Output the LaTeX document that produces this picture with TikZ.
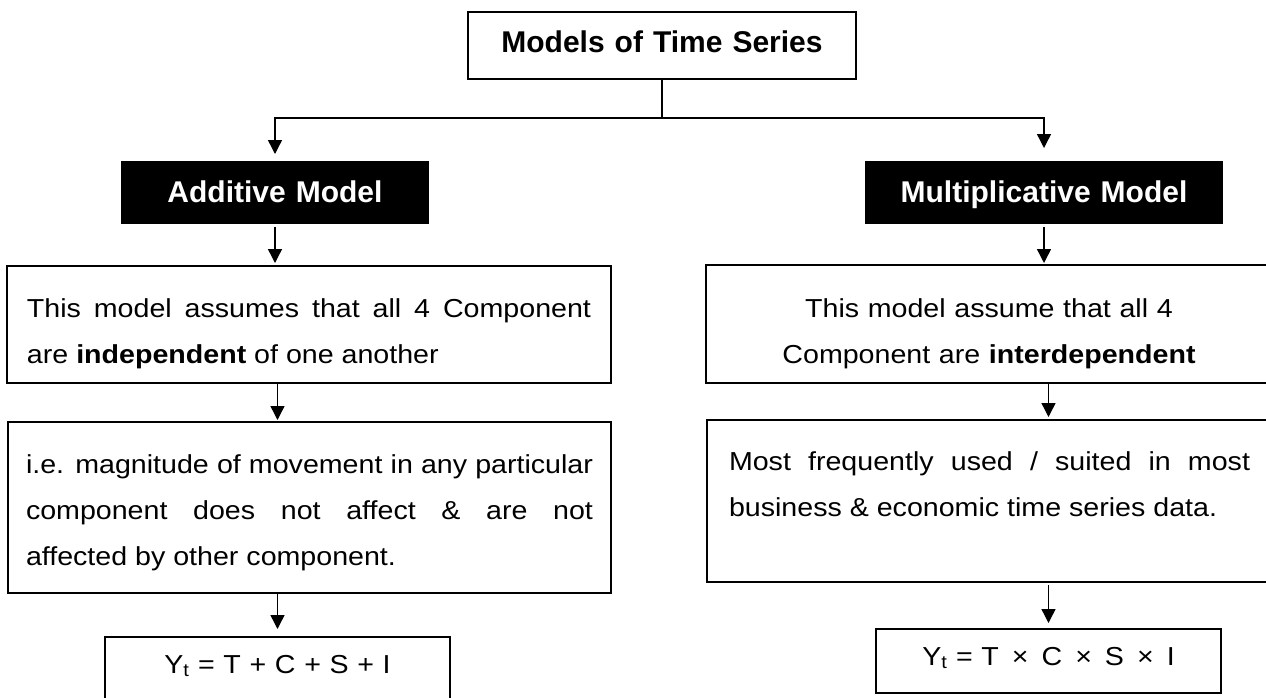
\documentclass[tikz,border=0pt]{standalone}
\usepackage{fontspec}
\setmainfont{Liberation Sans}
\newfontfamily\bodyfont[FakeStretch=1.1]{Liberation Sans}
\usetikzlibrary{arrows.meta}
\tolerance=10000
\hbadness=10000
\hyphenpenalty=10000
\exhyphenpenalty=10000
\tikzset{
  plainbox/.style={draw,line width=1.4pt,anchor=north west,inner ysep=0pt,inner xsep=20pt,outer sep=0pt},
  textbox/.style={plainbox,align=justify,font=\bodyfont\fontsize{26}{46}\selectfont},
  headbox/.style={plainbox,align=center,font=\fontsize{30}{36}\selectfont\bfseries},
  arr/.style={line width=1.4pt,-{Triangle[length=14pt,width=14pt]}}
}
\begin{document}
\begin{tikzpicture}[x=1pt,y=-1pt]
  \useasboundingbox (0,0) rectangle (1266,697);
  \clip (0,0) rectangle (1266,697);
  \node (title) [headbox,text width=348pt,text height=40pt,text depth=27pt] at (468,12) {Models of Time Series};
  \node (add) [headbox,fill=black,text=white,text width=266pt,text height=40pt,text depth=21pt] at (122,162) {Additive Model};
  \node (mult) [headbox,fill=black,text=white,text width=316pt,text height=40pt,text depth=21pt] at (866,162) {Multiplicative Model};
  \node (addA) [textbox,text width=564pt,text height=51pt,text depth=66pt] at (7,266) {This model assumes that all 4 Component are \textbf{independent} of one another};
  \node (addB) [textbox,text width=567pt,inner xsep=18pt,text height=51pt,text depth=120pt] at (8,422) {i.e. magnitude of movement in any particular component does not affect \& are not\linebreak affected by other component.};
  \node (addF) [textbox,align=center,text width=305pt,text height=36pt,text depth=28pt] at (105,637) {Y\textsubscript{t} = T + C + S + I};
  \node (multA) [textbox,align=center,text width=522pt,inner xsep=22pt,text height=52pt,text depth=66pt] at (706,265) {This model assume that all 4\\Component are \textbf{interdependent}};
  \node (multB) [textbox,text width=521pt,inner xsep=22pt,text height=50pt,text depth=112pt] at (707,420) {Most frequently used / suited in most business \& economic time series data.};
  \node (multF) [textbox,align=center,text width=305pt,text height=36pt,text depth=28pt] at (876,629) {Y\textsubscript{t} = T\, × \,C\, × \,S\, × \,I};
  \coordinate (split) at (662,118);
  \draw [line width=1.4pt] (title.south) -- (split);
  \draw [arr,shorten >=8pt] (split) -| (add.north);
  \draw [arr,shorten >=14pt] (split) -| (mult.north);
  \draw [arr,shorten <=4pt,shorten >=3pt] (add.south) -- (add.south |- addA.north);
  \draw [arr,shorten >=2pt] (addA.south -| addF.north) -- (addB.north -| addF.north);
  \draw [arr,shorten >=8pt] (addB.south -| addF.north) -- (addF.north);
  \draw [arr,shorten <=4pt,shorten >=2pt] (mult.south) -- (mult.south |- multA.north);
  \draw [arr,shorten >=3pt] (multA.south -| multF.north) -- (multB.north -| multF.north);
  \draw [arr,shorten <=3pt,shorten >=6pt] (multB.south -| multF.north) -- (multF.north);
\end{tikzpicture}
\end{document}
